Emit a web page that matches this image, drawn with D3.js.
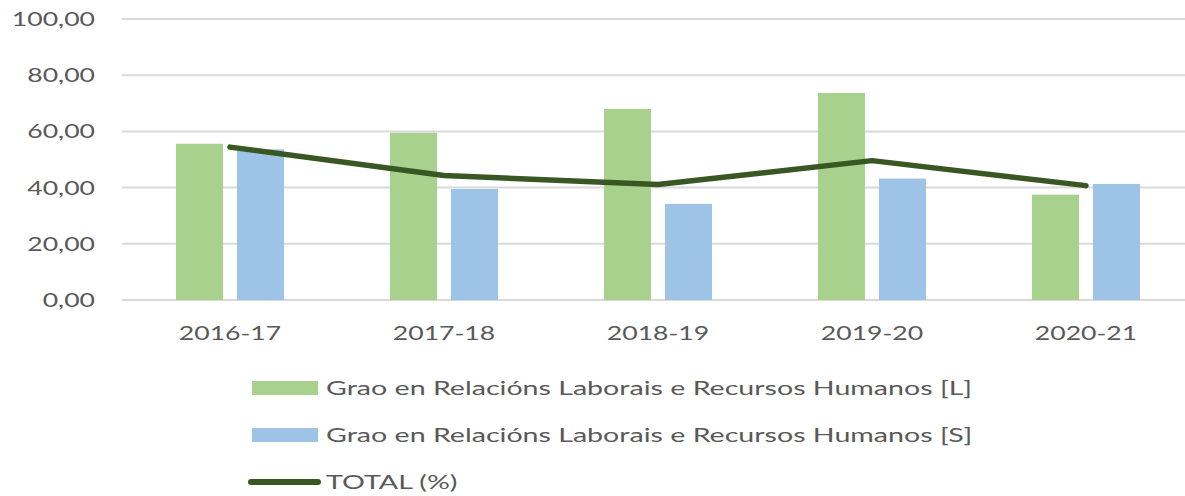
<!DOCTYPE html>
<html>
<head>
<meta charset="utf-8">
<script src="https://cdn.jsdelivr.net/npm/d3@7"></script>
<style>
  html, body { margin: 0; padding: 0; background: #ffffff; }
  svg { display: block; }
  text { font-family: Lato, "Open Sans", sans-serif; fill: #595959; }
</style>
</head>
<body>
<svg id="chart" width="1185" height="496"></svg>
<script>
const categories = ["2016-17", "2017-18", "2018-19", "2019-20", "2020-21"];
const seriesL = [55.6, 59.5, 68.0, 73.7, 37.5];
const seriesS = [53.6, 39.5, 34.2, 43.2, 41.3];
const total = [54.4, 44.3, 41.1, 49.6, 40.7];
const yTicks = [0, 20, 40, 60, 80, 100];
const seriesNames = [
  "Grao en Relacións Laborais e Recursos Humanos [L]",
  "Grao en Relacións Laborais e Recursos Humanos [S]",
  "TOTAL (%)"
];

const colL = "#A9D18E", colS = "#9DC3E6", colT = "#385723";
const FS = 19;

const svg = d3.select("#chart");
const x = d3.scaleBand().domain(categories).range([123, 1193]).padding(0);
const y = d3.scaleLinear().domain([0, 100]).range([300, 19]);
const fmt = v => d3.format(".2f")(v).replace(".", ",");

function stretchText(sel, anchor, s) {
  sel.each(function () {
    const t = d3.select(this);
    t.attr("text-anchor", anchor);
    const tx = +t.attr("data-x"), ty = +t.attr("data-y");
    t.attr("x", 0).attr("y", 0)
     .attr("transform", `translate(${tx},${ty}) scale(${s},1)`);
  });
}

// gridlines
svg.append("g").selectAll("line").data(yTicks).join("line")
  .attr("x1", 122).attr("x2", 1185)
  .attr("y1", d => y(d)).attr("y2", d => y(d))
  .attr("stroke", "#D9D9D9").attr("stroke-width", 2);

// y tick labels
svg.append("g").selectAll("text").data(yTicks).join("text")
  .attr("data-x", 95).attr("data-y", d => y(d) + 7)
  .attr("font-size", FS)
  .text(d => fmt(d))
  .call(stretchText, "end", 1.4);

// x labels
svg.append("g").selectAll("text").data(categories).join("text")
  .attr("data-x", d => x(d) + x.bandwidth() / 2).attr("data-y", 340)
  .attr("font-size", FS)
  .text(d => d)
  .call(stretchText, "middle", 1.4);

// bars
const x1 = d3.scaleBand().domain(["L", "S"]).range([-54, 54]).paddingInner(0.23).paddingOuter(0);
const barData = [];
categories.forEach((c, i) => {
  barData.push({ c, k: "L", v: seriesL[i] });
  barData.push({ c, k: "S", v: seriesS[i] });
});
svg.append("g").selectAll("rect").data(barData).join("rect")
  .attr("x", d => x(d.c) + x.bandwidth() / 2 + x1(d.k))
  .attr("width", x1.bandwidth())
  .attr("y", d => y(d.v))
  .attr("height", d => y(0) - y(d.v))
  .attr("fill", d => d.k === "L" ? colL : colS);

// total line
const line = d3.line()
  .x((d, i) => x(categories[i]) + x.bandwidth() / 2)
  .y(d => y(d));
svg.append("path").datum(total)
  .attr("d", line)
  .attr("fill", "none")
  .attr("stroke", colT)
  .attr("stroke-width", 5.5)
  .attr("stroke-linecap", "round")
  .attr("stroke-linejoin", "round");

// legend
const legY = [388, 435, 482];
const lg = svg.append("g");
lg.append("rect").attr("x", 252).attr("y", legY[0] - 7).attr("width", 66).attr("height", 14).attr("fill", colL);
lg.append("rect").attr("x", 252).attr("y", legY[1] - 7).attr("width", 66).attr("height", 14).attr("fill", colS);
lg.append("line").attr("x1", 251).attr("x2", 318).attr("y1", legY[2]).attr("y2", legY[2])
  .attr("stroke", colT).attr("stroke-width", 6).attr("stroke-linecap", "round");
lg.selectAll("text").data(seriesNames).join("text")
  .attr("data-x", 326).attr("data-y", (d, i) => legY[i] + 7)
  .attr("font-size", 20)
  .text(d => d)
  .call(stretchText, "start", 1.43);
</script>
</body>
</html>
